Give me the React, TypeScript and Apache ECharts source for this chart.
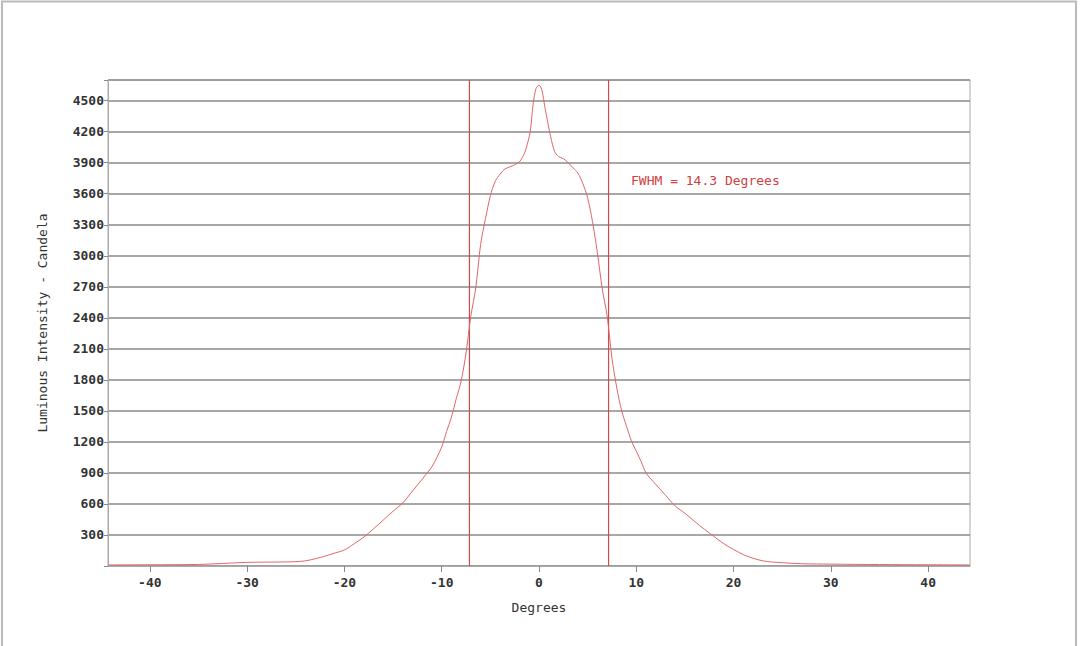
import React, { useEffect, useRef } from "react";
import * as echarts from "echarts";

const degrees = [
  -44.3, -40, -35, -30, -27, -25, -24, -23, -22, -21, -20, -19, -18, -17, -16, -15, -14, -13, -12, -11.5, -11, -10.5, -10, -9.5, -9, -8.5, -8, -7.5, -7, -6.5, -6, -5.5, -5, -4.5, -4, -3.5, -3, -2.5, -2, -1.5, -1.2, -0.9, -0.6, -0.3, 0,
  0.3, 0.6, 0.9, 1.2, 1.6, 2, 2.5, 3, 3.5, 4, 4.5, 5, 5.5, 6, 6.5, 7, 7.5, 8, 8.5, 9, 9.5, 10, 10.5, 11, 12, 13, 14, 15, 16, 17, 18, 19, 20, 21, 22, 23, 24, 25, 27, 30, 35, 40, 44.3,
];
const intensity = [
  10, 12, 15, 35, 38, 42, 50, 70, 95, 125, 155, 215, 280, 360, 445, 530, 610, 725, 840, 900, 960, 1050, 1150, 1300, 1440, 1620, 1790, 2060, 2420, 2690, 3110, 3360, 3580, 3720, 3790, 3840, 3860, 3880, 3910, 3990, 4080, 4200, 4470, 4620, 4650,
  4600, 4440, 4290, 4150, 4010, 3960, 3940, 3900, 3850, 3800, 3700, 3560, 3330, 3030, 2680, 2420, 2010, 1720, 1500, 1350, 1210, 1110, 1010, 900, 790, 685, 580, 510, 430, 355, 285, 215, 160, 110, 75, 50, 38, 32, 22, 18, 14, 12, 10,
];
const fwhmBounds = [-7.15, 7.15];
const yRange = [0, 4700];
const xTicks = [-40, -30, -20, -10, 0, 10, 20, 30, 40];
const yTicks = [300, 600, 900, 1200, 1500, 1800, 2100, 2400, 2700, 3000, 3300, 3600, 3900, 4200, 4500];
const fwhmLabel = "FWHM = 14.3 Degrees";

const FONT = "DejaVu Sans Mono";
const MARK_COLOR = "#cc4c4c";
const CURVE_COLOR = "#e06666";

export default function App() {
  const ref = useRef<HTMLDivElement>(null);
  useEffect(() => {
    if (!ref.current) return;
    document.body.style.margin = "0";
    const chart = echarts.init(ref.current, undefined, { renderer: "svg" });
    const data = degrees.map((d, i) => [d, intensity[i]]);
    chart.setOption({
      animation: false,
      backgroundColor: "#ffffff",
      grid: {
        left: 108,
        right: 110,
        top: 80,
        bottom: 80,
        show: true,
        borderColor: "#aaaaaa",
        borderWidth: 1,
      },
      xAxis: {
        type: "value",
        min: -44.3,
        max: 44.3,
        name: "Degrees",
        nameLocation: "middle",
        nameGap: 35,
        nameTextStyle: { fontFamily: FONT, fontSize: 13, color: "#333333" },
        axisLine: { show: true, onZero: false, lineStyle: { color: "#aaaaaa" } },
        axisTick: {
          show: true,
          length: 6,
          customValues: xTicks,
          lineStyle: { color: "#888888" },
        },
        axisLabel: {
          customValues: xTicks,
          margin: 10,
          fontFamily: FONT,
          fontSize: 13,
          fontWeight: "bold",
          color: "#333333",
        },
        splitLine: { show: false },
      },
      yAxis: {
        type: "value",
        min: yRange[0],
        max: yRange[1],
        interval: 300,
        name: "Luminous Intensity - Candela",
        nameLocation: "middle",
        nameGap: 59,
        nameRotate: 90,
        nameTextStyle: { fontFamily: FONT, fontSize: 13, color: "#333333" },
        axisLine: { show: true, onZero: false, lineStyle: { color: "#aaaaaa" } },
        axisTick: { show: true, length: 4, lineStyle: { color: "#888888" } },
        axisLabel: {
          margin: 4,
          fontFamily: FONT,
          fontSize: 13,
          fontWeight: "bold",
          color: "#333333",
          formatter: (v: number) => (yTicks.indexOf(v) >= 0 ? String(v) : ""),
        },
        splitLine: { show: true, lineStyle: { color: "#8a8a8a", width: 1.5 } },
      },
      series: [
        {
          type: "line",
          data: yRange.map((v) => [fwhmBounds[0], v]),
          showSymbol: false,
          silent: true,
          lineStyle: { color: MARK_COLOR, width: 1.2 },
        },
        {
          type: "line",
          data: yRange.map((v) => [fwhmBounds[1], v]),
          showSymbol: false,
          silent: true,
          lineStyle: { color: MARK_COLOR, width: 1.2 },
        },
        {
          type: "line",
          data,
          smooth: 0.3,
          showSymbol: false,
          silent: true,
          lineStyle: { color: CURVE_COLOR, width: 1 },
        },
      ],
      graphic: [
        {
          type: "rect",
          shape: { x: 2, y: 1.5, width: 1074, height: 660 },
          style: { fill: "none", stroke: "#bbbbbb", lineWidth: 2 },
          silent: true,
        },
        {
          type: "text",
          x: 631,
          y: 180,
          style: {
            text: fwhmLabel,
            fill: "#d04040",
            font: `13px "${FONT}"`,
            textVerticalAlign: "middle",
          },
        },
      ],
    });
    return () => chart.dispose();
  }, []);
  return <div ref={ref} style={{ width: 1080, height: 646 }} />;
}
